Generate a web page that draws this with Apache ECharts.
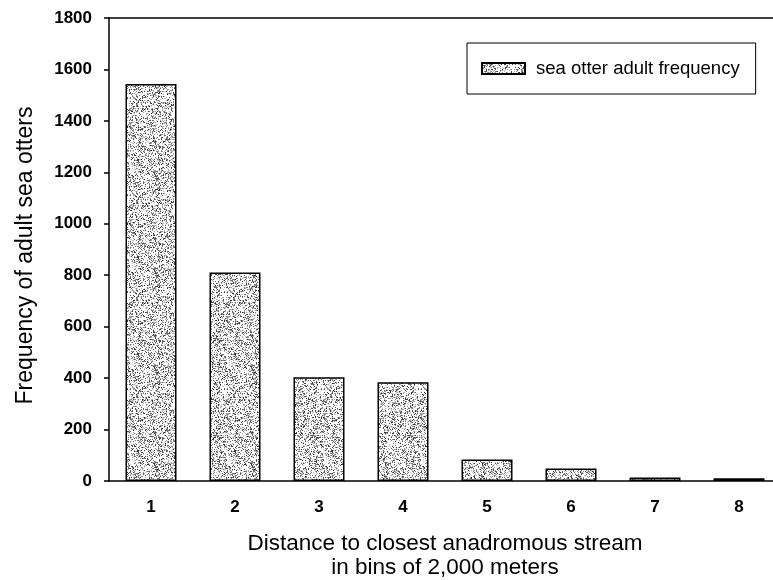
<!DOCTYPE html>
<html>
<head>
<meta charset="utf-8">
<script src="https://cdn.jsdelivr.net/npm/echarts@6/dist/echarts.min.js"></script>
<style>
  html, body { margin: 0; padding: 0; background: #fff; }
  #chart { width: 773px; height: 580px; }
</style>
</head>
<body>
<div id="chart"></div>
<script>
var bins = ["1", "2", "3", "4", "5", "6", "7", "8"];
var adultFreq = [1543, 811, 403, 384, 84, 49, 14, 11];
var yTicks = [0, 1800, 200];

var seriesName = "sea otter adult frequency";
var fontFam = "Liberation Sans, Arial, sans-serif";

// stipple texture for the bars (fixed seed so it looks the same every time)
function makeStipple(size, density, lo, hi) {
  var c = document.createElement("canvas");
  c.width = size;
  c.height = size;
  var g = c.getContext("2d");
  g.fillStyle = "#fff";
  g.fillRect(0, 0, size, size);
  var seed = 12345;
  function rnd() {
    seed = (seed * 1103515245 + 12345) % 2147483648;
    return seed / 2147483648;
  }
  for (var y = 0; y < size; y++) {
    for (var x = 0; x < size; x++) {
      if (rnd() < density) {
        var v = Math.floor(lo + rnd() * (hi - lo));
        g.fillStyle = "rgb(" + v + "," + v + "," + v + ")";
        g.fillRect(x, y, 1, 1);
      }
    }
  }
  return c;
}

var barFill = { image: makeStipple(97, 0.36, 40, 210), repeat: "repeat" };

var myChart = echarts.init(document.getElementById("chart"));

var option = {
  backgroundColor: "#fff",
  animation: false,
  textStyle: { fontFamily: fontFam, color: "#000" },
  // plot runs a little past the right edge in the original
  grid: {
    left: 109,
    width: 672,
    top: 18,
    bottom: 99,
    containLabel: false,
    outerBoundsMode: "none"
  },
  legend: {
    left: 467,
    top: 43,
    padding: [16, 16, 16, 14],
    borderColor: "#000",
    borderWidth: 1,
    itemWidth: 43,
    itemHeight: 11,
    selectedMode: false,
    icon: "rect",
    textStyle: { fontSize: 18.5, color: "#000", fontFamily: fontFam, padding: [0, 0, 0, 6] },
    data: [seriesName]
  },
  xAxis: [
    {
      type: "category",
      data: bins,
      position: "bottom",
      axisLine: { lineStyle: { color: "#000", width: 1.5 } },
      axisTick: { alignWithLabel: true, length: 5, lineStyle: { color: "#000", width: 1.5 } },
      axisLabel: { fontSize: 17, fontWeight: "bold", color: "#000", margin: 18 },
      name: "Distance to closest anadromous stream\nin bins of 2,000 meters",
      nameLocation: "middle",
      nameGap: 51,
      nameTextStyle: { fontSize: 22.5, color: "#000", lineHeight: 24 }
    },
    {
      type: "category",
      data: bins,
      position: "top",
      axisLine: { lineStyle: { color: "#000", width: 1.5 } },
      axisTick: { show: false },
      axisLabel: { show: false }
    }
  ],
  yAxis: {
    type: "value",
    min: yTicks[0],
    max: yTicks[1],
    interval: yTicks[2],
    axisLine: { show: true, lineStyle: { color: "#000", width: 1.5 } },
    axisTick: { show: true, length: 5, lineStyle: { color: "#000", width: 1.5 } },
    splitLine: { show: false },
    axisLabel: {
      fontSize: 17,
      fontWeight: "bold",
      color: "#000",
      margin: 17,
      formatter: function (v) { return String(v); }
    },
    name: "Frequency of adult sea otters",
    nameLocation: "middle",
    nameGap: 72,
    nameTextStyle: { fontSize: 23, color: "#000", padding: [0, 12, 0, 0] }
  },
  series: [
    {
      name: seriesName,
      type: "bar",
      data: adultFreq,
      barWidth: 51,
      itemStyle: { color: barFill, borderColor: "#000", borderWidth: 1.5 }
    }
  ]
};

option && myChart.setOption(option);
</script>
</body>
</html>
